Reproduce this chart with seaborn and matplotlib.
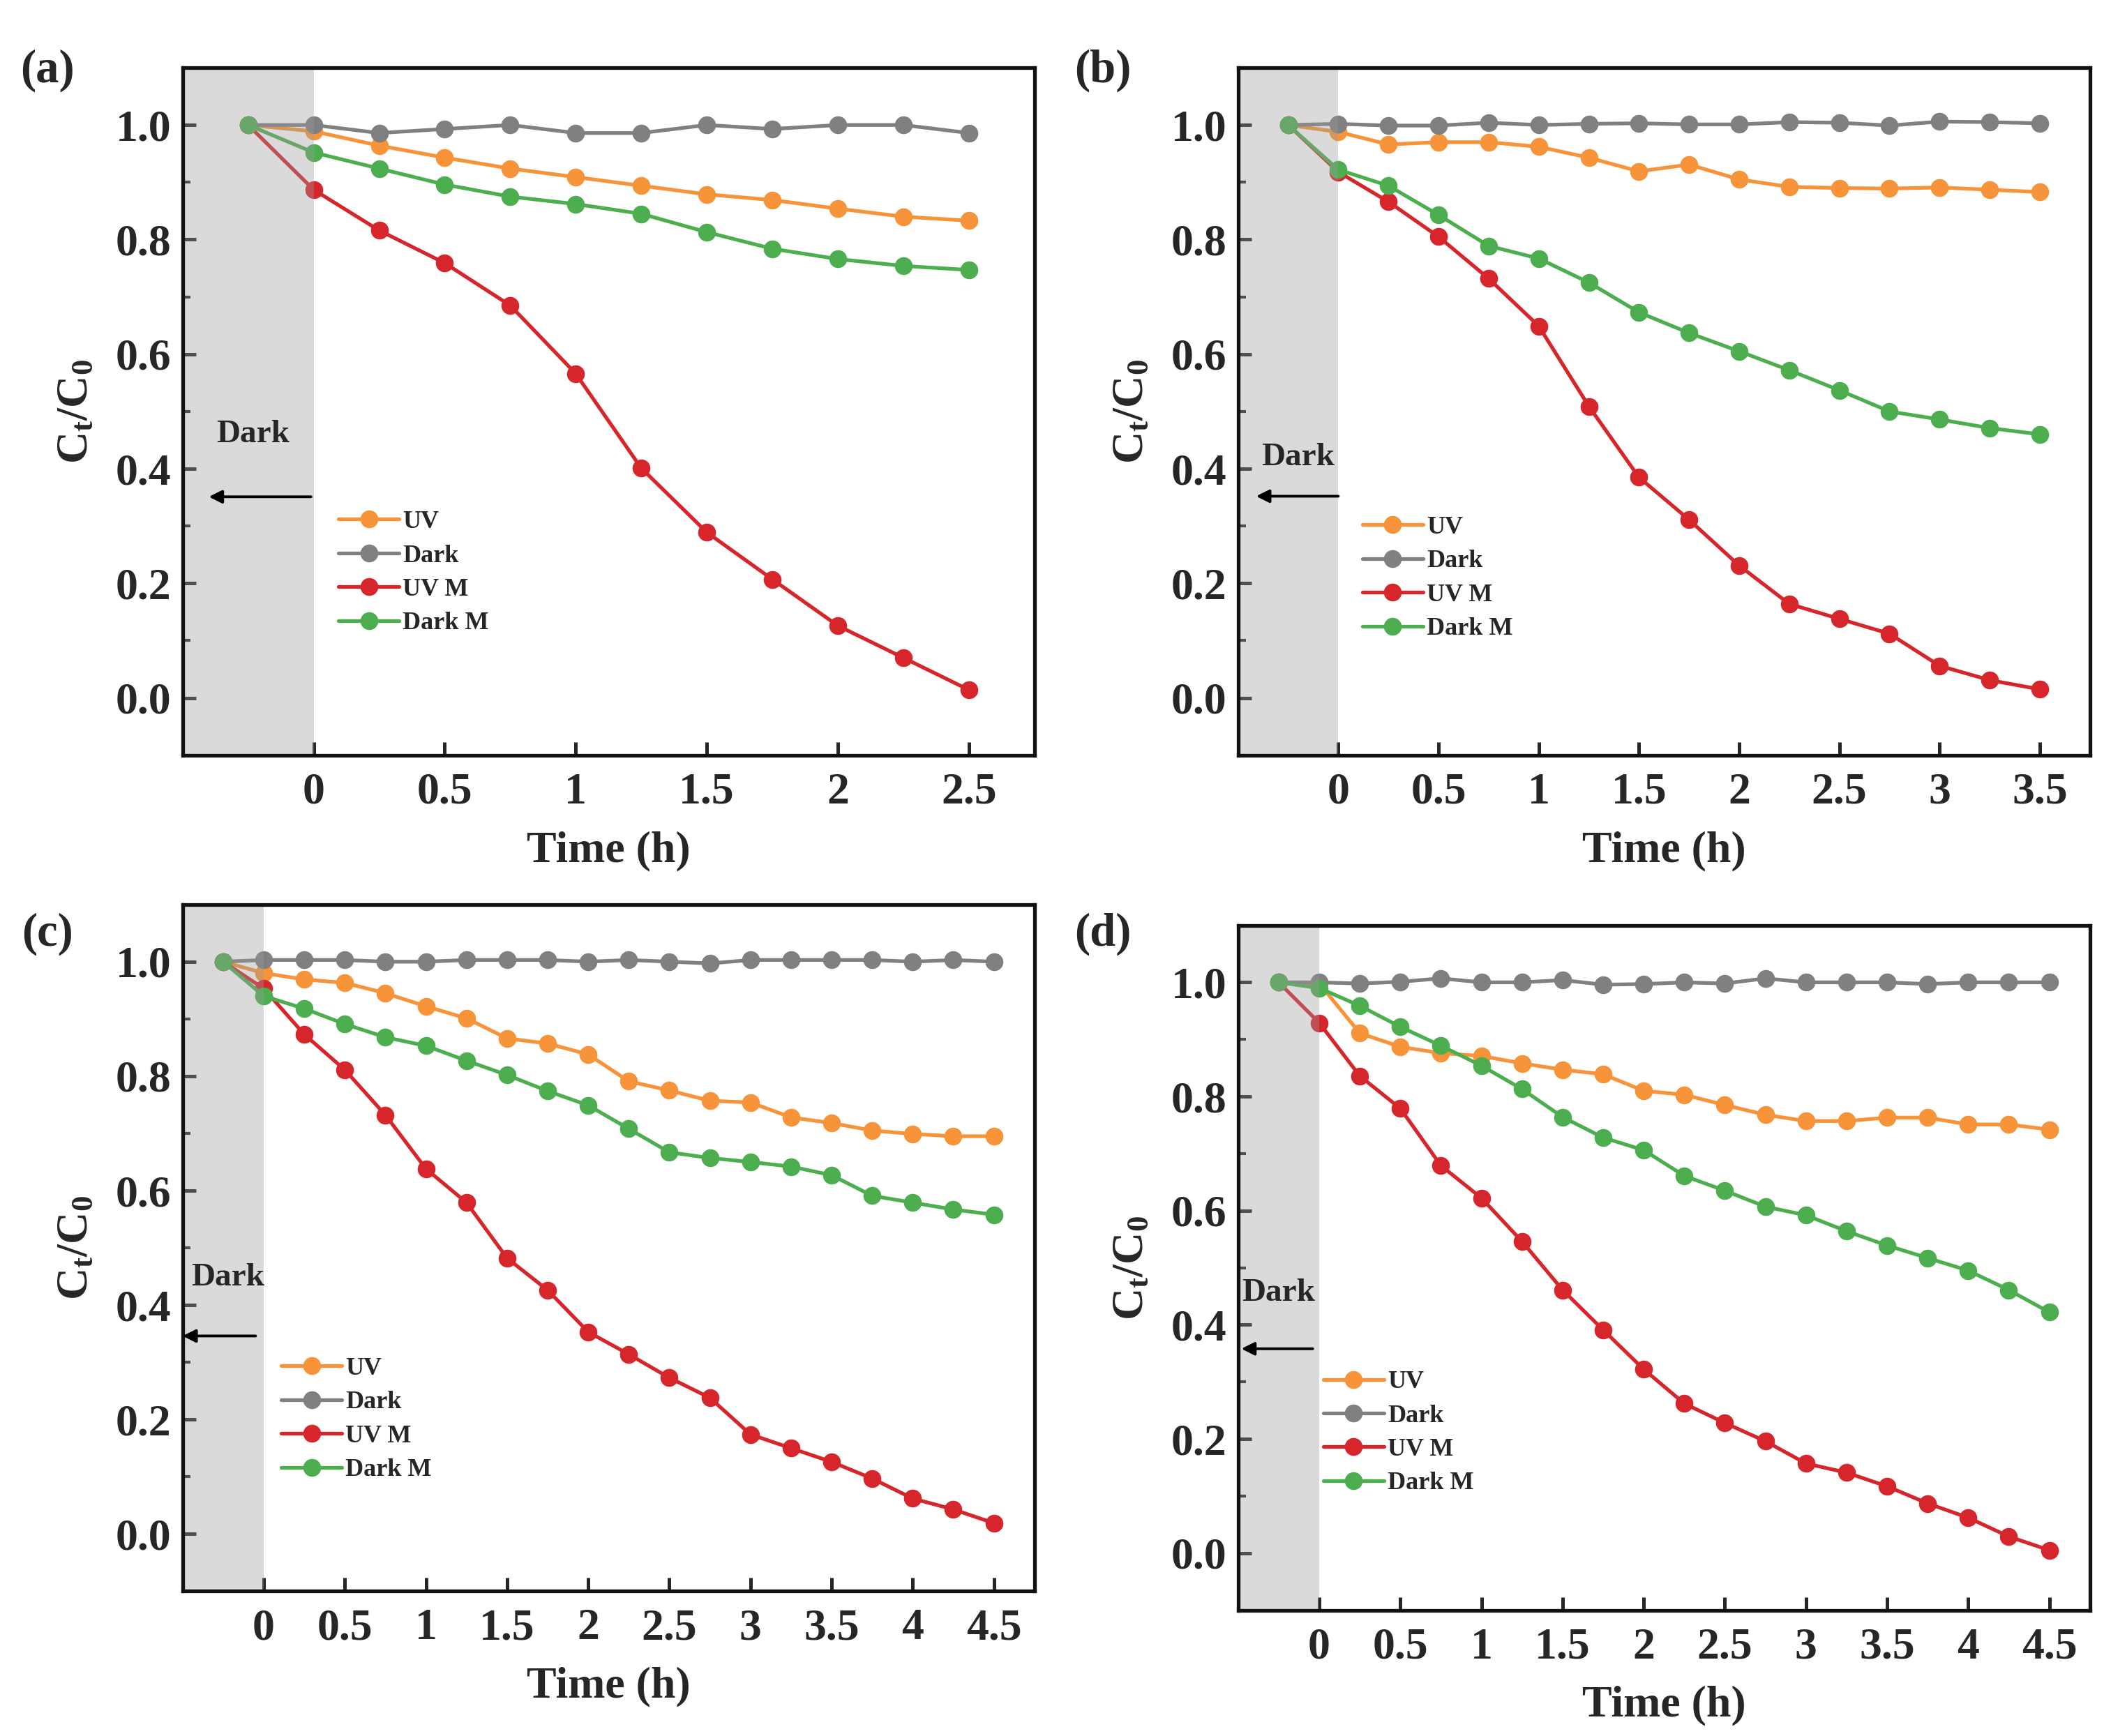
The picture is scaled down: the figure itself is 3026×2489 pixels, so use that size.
import numpy as np
import pandas as pd
import matplotlib
matplotlib.use("Agg")
import matplotlib.pyplot as plt
from matplotlib.ticker import FixedLocator, FuncFormatter
import seaborn as sns

# ---------------- data ----------------
series_names = ["UV", "Dark", "UV M", "Dark M"]
series_colors = ["#F7943A", "#808080", "#D7262B", "#4DAE4F"]

time_a = [-0.25, 0, 0.25, 0.5, 0.75, 1.0, 1.25, 1.5, 1.75, 2.0, 2.25, 2.5]
uv_a = [1.0, 0.989, 0.964, 0.943, 0.924, 0.909, 0.894, 0.879, 0.869, 0.854, 0.840, 0.833]
dark_a = [1.0, 1.0, 0.986, 0.993, 1.0, 0.986, 0.986, 1.0, 0.993, 1.0, 1.0, 0.986]
uvm_a = [1.0, 0.887, 0.816, 0.759, 0.685, 0.566, 0.401, 0.289, 0.207, 0.126, 0.070, 0.014]
darkm_a = [1.0, 0.952, 0.924, 0.896, 0.875, 0.862, 0.845, 0.813, 0.784, 0.766, 0.754, 0.747]

time_b = [-0.25, 0, 0.25, 0.5, 0.75, 1.0, 1.25, 1.5, 1.75, 2.0, 2.25, 2.5, 2.75, 3.0, 3.25, 3.5]
uv_b = [1.0, 0.988, 0.966, 0.970, 0.970, 0.962, 0.943, 0.919, 0.931, 0.905, 0.892, 0.890, 0.889, 0.891, 0.887, 0.883]
dark_b = [1.0, 1.002, 0.999, 0.999, 1.004, 1.0, 1.002, 1.003, 1.001, 1.001, 1.005, 1.004, 0.999, 1.006, 1.005, 1.003]
uvm_b = [1.0, 0.918, 0.866, 0.805, 0.732, 0.649, 0.509, 0.385, 0.311, 0.231, 0.164, 0.138, 0.112, 0.056, 0.031, 0.015]
darkm_b = [1.0, 0.922, 0.894, 0.843, 0.789, 0.767, 0.725, 0.673, 0.637, 0.605, 0.572, 0.537, 0.500, 0.486, 0.471, 0.460]

time_c = [-0.25, 0, 0.25, 0.5, 0.75, 1.0, 1.25, 1.5, 1.75, 2.0, 2.25, 2.5, 2.75, 3.0, 3.25, 3.5, 3.75, 4.0, 4.25, 4.5]
uv_c = [1.0, 0.980, 0.969, 0.963, 0.945, 0.922, 0.901, 0.866, 0.857, 0.838, 0.791, 0.775, 0.757, 0.754, 0.728, 0.718, 0.705, 0.699, 0.695, 0.695]
dark_c = [1.0, 1.003, 1.003, 1.003, 1.0, 1.0, 1.003, 1.003, 1.003, 1.0, 1.003, 1.0, 0.997, 1.003, 1.003, 1.003, 1.003, 1.0, 1.003, 1.0]
uvm_c = [1.0, 0.953, 0.873, 0.811, 0.732, 0.638, 0.579, 0.482, 0.426, 0.353, 0.314, 0.273, 0.238, 0.174, 0.150, 0.126, 0.097, 0.062, 0.043, 0.019]
darkm_c = [1.0, 0.940, 0.918, 0.891, 0.868, 0.853, 0.827, 0.802, 0.774, 0.749, 0.708, 0.667, 0.657, 0.650, 0.642, 0.627, 0.591, 0.579, 0.567, 0.558]

time_d = [-0.25, 0, 0.25, 0.5, 0.75, 1.0, 1.25, 1.5, 1.75, 2.0, 2.25, 2.5, 2.75, 3.0, 3.25, 3.5, 3.75, 4.0, 4.25, 4.5]
uv_d = [1.0, 0.998, 0.911, 0.887, 0.876, 0.871, 0.858, 0.847, 0.839, 0.810, 0.803, 0.785, 0.768, 0.757, 0.757, 0.763, 0.763, 0.751, 0.751, 0.742]
dark_d = [1.0, 1.0, 0.998, 1.001, 1.007, 1.0, 1.0, 1.004, 0.996, 0.997, 1.0, 0.998, 1.007, 1.0, 1.0, 1.0, 0.997, 1.0, 1.0, 1.0]
uvm_d = [1.0, 0.929, 0.836, 0.779, 0.679, 0.622, 0.546, 0.461, 0.391, 0.322, 0.262, 0.228, 0.196, 0.157, 0.141, 0.117, 0.087, 0.062, 0.029, 0.005]
darkm_d = [1.0, 0.990, 0.959, 0.922, 0.889, 0.854, 0.813, 0.764, 0.728, 0.706, 0.661, 0.635, 0.607, 0.592, 0.564, 0.539, 0.517, 0.495, 0.461, 0.422]

x_max = [2.5, 3.5, 4.5, 4.5]
panel_labels = ["(a)", "(b)", "(c)", "(d)"]
xlabel_text = "Time (h)"
ylabel_text = r"$\mathrm{C_t/C_0}$"
dark_text = "Dark"

# ---------------- style ----------------
sns.set_style("ticks")
plt.rcParams["font.family"] = ["Liberation Serif", "DejaVu Serif"]
plt.rcParams["font.weight"] = "bold"
plt.rcParams["axes.labelweight"] = "bold"
plt.rcParams["mathtext.fontset"] = "custom"
plt.rcParams["mathtext.rm"] = "Liberation Serif:bold"
plt.rcParams["mathtext.it"] = "Liberation Serif:italic:bold"
plt.rcParams["mathtext.bf"] = "Liberation Serif:bold"

fig = plt.figure(figsize=(15.13, 12.445), dpi=200)

axes_rects = [
    [0.0865, 0.565, 0.4035, 0.396],
    [0.5865, 0.565, 0.4035, 0.396],
    [0.0865, 0.0834, 0.4035, 0.3956],
    [0.5865, 0.0725, 0.4035, 0.3945],
]
label_pos = [(0.0224, 0.9595), (0.5224, 0.9595), (0.0224, 0.462), (0.5224, 0.462)]
legend_anchor = [(0.183, 0.356), (0.146, 0.348), (0.116, 0.341), (0.100, 0.350)]
dark_text_pos = [(-0.23, 0.46), (-0.20, 0.42), (-0.22, 0.448), (-0.25, 0.455)]
arrow_pos = [(-0.01, -0.40, 0.351), (0.0, -0.41, 0.352), (-0.05, -0.50, 0.346), (-0.04, -0.48, 0.358)]

panels = [
    (time_a, [uv_a, dark_a, uvm_a, darkm_a]),
    (time_b, [uv_b, dark_b, uvm_b, darkm_b]),
    (time_c, [uv_c, dark_c, uvm_c, darkm_c]),
    (time_d, [uv_d, dark_d, uvm_d, darkm_d]),
]

TICK_FS = 23

for i, (t, ys) in enumerate(panels):
    ax = fig.add_axes(axes_rects[i])
    rows = []
    for name, vals in zip(series_names, ys):
        for tt, v in zip(t, vals):
            rows.append({"Time": tt, "C": v, "Series": name})
    df = pd.DataFrame(rows)

    for name, col in zip(series_names, series_colors):
        sub = df[df["Series"] == name]
        sns.lineplot(data=sub, x="Time", y="C", ax=ax, color=col,
                     marker="o", markersize=8, linewidth=1.9,
                     markeredgecolor=col, markerfacecolor=col,
                     markeredgewidth=1.2, label=name, zorder=2,
                     estimator=None, sort=False)

    ax.set_xlim(-0.5, x_max[i] + 0.25)
    ax.set_ylim(-0.1, 1.1)
    # dark adsorption shaded region (drawn above the lines)
    ax.axvspan(-0.5, 0, facecolor="#9a9a9a", alpha=0.36, edgecolor="none", zorder=3)

    ticks = [k * 0.5 for k in range(int(round(x_max[i] / 0.5)) + 1)]
    ax.xaxis.set_major_locator(FixedLocator(ticks))
    ax.xaxis.set_major_formatter(FuncFormatter(lambda v, p: "%g" % v))
    ax.yaxis.set_major_locator(FixedLocator([0.0, 0.2, 0.4, 0.6, 0.8, 1.0]))
    ax.yaxis.set_minor_locator(FixedLocator([-0.1, 0.1, 0.3, 0.5, 0.7, 0.9]))
    ax.yaxis.set_major_formatter(FuncFormatter(lambda v, p: "%.1f" % v))

    ax.tick_params(axis="both", which="major", direction="in", length=7,
                   width=1.8, labelsize=TICK_FS, top=False, right=False)
    ax.tick_params(axis="y", which="minor", direction="in", length=3.8,
                   width=1.5, left=True, right=False)
    ax.tick_params(axis="x", which="major", pad=9)
    ax.tick_params(axis="y", which="major", pad=6)
    for lab in ax.get_xticklabels() + ax.get_yticklabels():
        lab.set_fontweight("bold")
    for sp in ax.spines.values():
        sp.set_linewidth(1.9)
        sp.set_color("#111111")
        sp.set_zorder(5)

    ax.set_xlabel(xlabel_text, fontsize=TICK_FS, fontweight="bold")
    ax.set_ylabel(ylabel_text, fontsize=TICK_FS)
    ax.xaxis.set_label_coords(0.5, -0.11)
    ax.yaxis.set_label_coords(-0.10, 0.5)

    # Dark label and arrow
    ax.text(dark_text_pos[i][0], dark_text_pos[i][1], dark_text, fontsize=17,
            fontweight="bold", ha="center", va="center", zorder=6)
    x0, x1, ya = arrow_pos[i]
    ax.annotate("", xy=(x1, ya), xytext=(x0, ya),
                arrowprops=dict(arrowstyle="-|>", color="black", lw=1.4,
                                mutation_scale=14, shrinkA=0, shrinkB=0),
                zorder=6)

    ax.legend(loc="upper left", bbox_to_anchor=legend_anchor[i],
              frameon=False, handlelength=2.4,
              handletextpad=0.15, labelspacing=0.42, borderpad=0,
              borderaxespad=0, prop={"weight": "bold", "size": 13})

    fig.text(label_pos[i][0], label_pos[i][1], panel_labels[i], fontsize=24,
             fontweight="bold", ha="center", va="center")

fig.savefig("out.png", dpi=200)
